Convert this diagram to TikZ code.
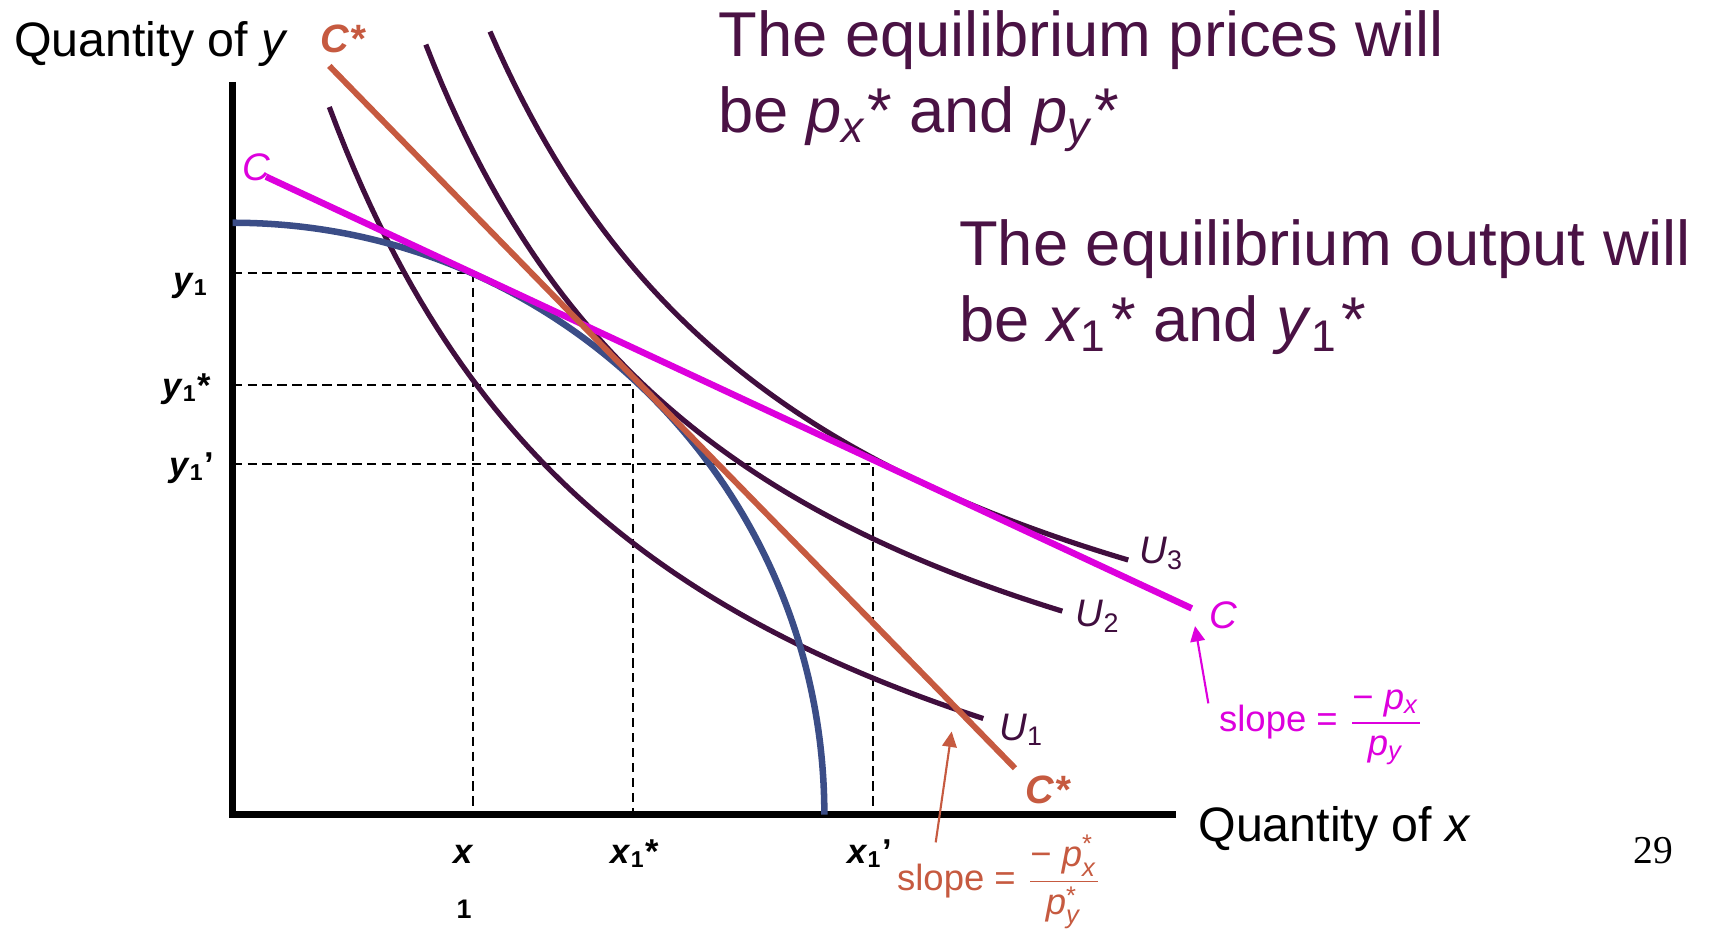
\documentclass[tikz,border=0pt]{standalone}
\usepackage{amsmath}
\usepackage{fontspec}
\setmainfont{Liberation Sans}
\newfontfamily\pagefont{Liberation Serif}
\usetikzlibrary{arrows.meta}

\definecolor{plum}{RGB}{74,18,68}
\definecolor{icol}{RGB}{64,14,62}
\definecolor{rust}{RGB}{198,90,64}
\definecolor{mag}{RGB}{221,0,221}
\definecolor{ppfblue}{RGB}{59,77,135}

% bold axis labels like y_1*, x_1'
\newcommand{\qlab}[2]{\textbf{\textit{#1}\textsubscript{1}#2}}

\begin{document}
\begin{tikzpicture}[
    axis/.style={line width=2pt},
    guide/.style={line width=0.5pt, dash pattern=on 2.4pt off 1.5pt},
    icurve/.style={line width=1.35pt, icol},
    ppf/.style={line width=1.7pt, ppfblue},
    cline/.style={line width=1.7pt, mag},
    csline/.style={line width=1.55pt, rust},
    marr/.style={-{Triangle[length=4pt,width=3.8pt]}, line width=0.55pt, mag},
    oarr/.style={-{Triangle[length=4pt,width=3.8pt]}, line width=0.55pt, rust},
    lbl/.style={font=\fontsize{10}{12}\selectfont, inner sep=0pt},
    qlb/.style={font=\fontsize{9}{11}\selectfont, inner sep=0pt},
    ttl/.style={font=\fontsize{12.6}{15}\selectfont, inner sep=0pt},
    big/.style={font=\fontsize{16.5}{19.8}\selectfont, text=plum, align=left, inner sep=0pt},
    slp/.style={font=\fontsize{9.5}{11}\selectfont, inner sep=0pt}
]
\useasboundingbox (-2.13,-1.10) rectangle (13.55,7.46);

\coordinate (O) at (0,0);
\coordinate (E1) at (2.199,4.957);
\coordinate (E2) at (3.665,3.934);
\coordinate (E3) at (5.869,3.207);

% axes
\draw[axis] (0,6.71) -- (O) -- (8.64,0);

% dashed guides
\draw[guide] (O |- E1) -- (E1) -- (E1 |- O);
\draw[guide] (O |- E2) -- (E2) -- (E2 |- O);
\draw[guide] (O |- E3) -- (E3) -- (E3 |- O);

% indifference curves
\draw[icurve] plot[domain=0.886:6.876, samples=80] (\x, {27.6/(\x+2.323)-2.121});
\draw[icurve] plot[domain=1.77:7.60, samples=80] (\x, {24.5/(\x+1.317)-0.885});
\draw[icurve] plot[domain=2.358:8.204, samples=80] (\x, {24.7/(\x+0.914)-0.378});

% production frontier
\draw[ppf] (0,5.42) arc[start angle=90, end angle=0, radius=5.42];

% price lines
\coordinate (C0) at (0.306,5.842);
\coordinate (C1) at (8.785,1.888);
\coordinate (S0) at (0.886,6.856);
\coordinate (S1) at (7.166,0.424);
\draw[cline] (C0) -- (C1);
\draw[csline] (S0) -- (S1);

% axis titles
\node[ttl, anchor=base west] (qy) at (-2.007,6.941) {Quantity of \textit{y}};
\node[ttl, anchor=base west] (qx) at (8.839,-0.249) {Quantity of \textit{x}};

% line labels
\node[lbl, anchor=base west, text=rust, font=\fontsize{10.3}{12}\selectfont\bfseries\itshape] (cstop) at (0.80,6.98) {C*};
\node[lbl, anchor=base west, text=rust, font=\fontsize{10.3}{12}\selectfont\bfseries\itshape] (csbot) at (7.258,0.102) {C*};
\node[lbl, anchor=base west, text=mag] (ctop) at (0.085,5.81) {\textit{C}};
\node[lbl, anchor=base west, text=mag] (cbot) at (8.937,1.705) {\textit{C}};
\node[lbl, anchor=base west, text=icol] (u1) at (7.014,0.682) {\textit{U}\textsubscript{1}};
\node[lbl, anchor=base west, text=icol] (u2) at (7.716,1.72) {\textit{U}\textsubscript{2}};
\node[lbl, anchor=base west, text=icol] (u3) at (8.296,2.30) {\textit{U}\textsubscript{3}};

% quantities on the axes
\node[qlb, anchor=base east] (y1) at (-0.213,4.787) {\qlab{y}{}};
\node[qlb, anchor=base east] (y1s) at (-0.191,3.815) {\qlab{y}{*}};
\node[qlb, anchor=base east] (y1p) at (-0.161,3.093) {\qlab{y}{'}};
\node[qlb, anchor=base west] (x1) at (2.016,-0.447) {\textbf{\textit{x}}};
\node[qlb, anchor=base west, font=\fontsize{7}{8}\selectfont\bfseries] (x1b) at (2.045,-0.95) {1};
\node[qlb, anchor=base west] (x1s) at (3.455,-0.447) {\qlab{x}{*}};
\node[qlb, anchor=base west] (x1p) at (5.623,-0.447) {\qlab{x}{'}};

% slopes
\node[slp, anchor=base west, text=mag] (slopeC) at (9.029,0.758)
  {slope = $\dfrac{\text{− \textit{p}\textsubscript{\textit{x}}}}{\text{\textit{p}\textsubscript{\textit{y}}}}$};
\node[slp, anchor=base west, text=rust] (slopeS) at (6.08,-0.692)
  {slope = $\dfrac{\text{− }\text{\textit{p}}^{\text{*}}_{\text{\textit{x}}}}{\text{\textit{p}}^{\text{*}}_{\text{\textit{y}}}}$};
\coordinate (mtail) at (8.937,1.018);
\coordinate (mtip) at (8.815,1.726);
\coordinate (otail) at (6.44,-0.255);
\coordinate (otip) at (6.586,0.76);
\draw[marr] (mtail) -- (mtip);
\draw[oarr] (otail) -- (otip);

% statements (anchored on the last line)
\node[big, anchor=base west] (t1) at (4.445,6.245)
  {The equilibrium prices will\\ be \textit{p}\textsubscript{\textit{x}}* and \textit{p}\textsubscript{\textit{y}}*};
\node[big, anchor=base west] (t2) at (6.648,4.33)
  {The equilibrium output will\\ be \textit{x}\textsubscript{1}\kern1pt* and \textit{y}\textsubscript{1}\kern1pt*};

\node[anchor=base west, inner sep=0pt, font=\pagefont\fontsize{10.3}{12}\selectfont] (pg) at (12.825,-0.447) {29};
\end{tikzpicture}
\end{document}
